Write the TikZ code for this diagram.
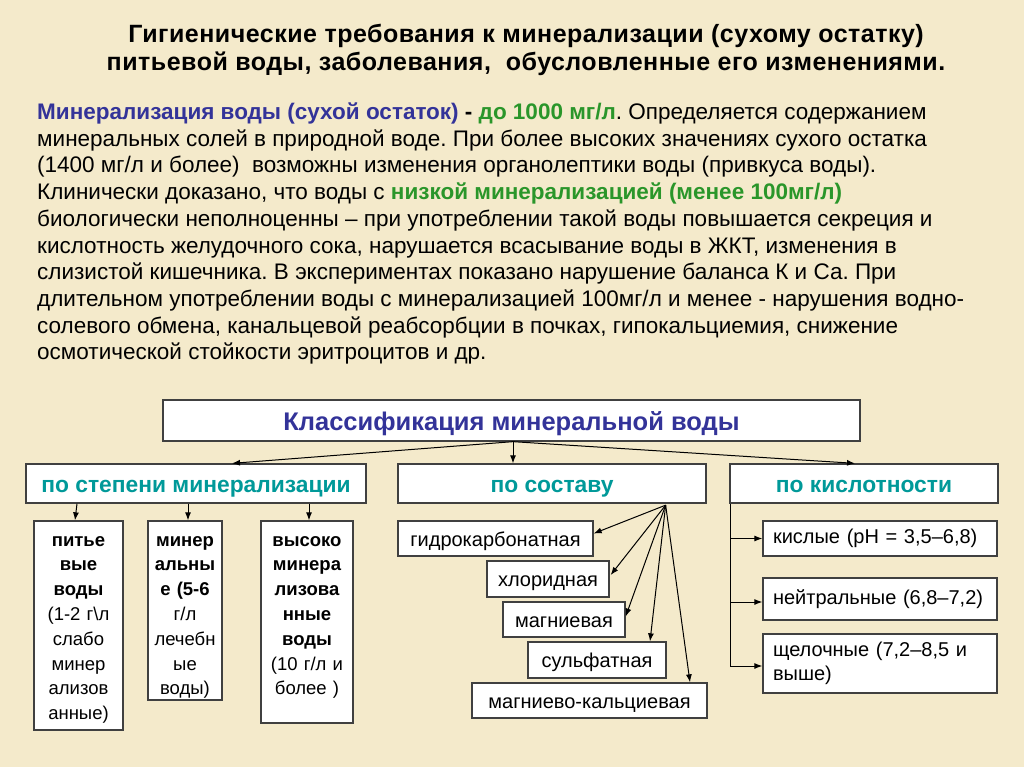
\documentclass[tikz,border=0pt]{standalone}
\usepackage{fontspec}
\setmainfont{Liberation Sans}
\usetikzlibrary{arrows.meta,calc}
\definecolor{bg}{HTML}{F4EACB}
\definecolor{dblue}{HTML}{333399}
\definecolor{dgreen}{HTML}{2A962A}
\definecolor{myteal}{HTML}{009999}
\definecolor{boxline}{HTML}{404040}
\begin{document}
\frenchspacing
\begin{tikzpicture}[x=1pt,y=-1pt,
  box/.style={draw=boxline, fill=white, line width=1.3pt, inner sep=0pt},
  arr/.style={-{Latex[length=8pt,width=6pt]}, line width=1pt, black},
  conn/.style={line width=1pt, black},
  ttl/.style={anchor=base, inner sep=0pt, font=\bfseries\fontsize{25}{28}\selectfont\addfontfeature{LetterSpace=2}},
  ptext/.style={anchor=base west, inner sep=0pt, font=\fontsize{22.5}{26}\selectfont},
  hdr/.style={box, font=\bfseries\fontsize{22.8}{26}\selectfont, text=myteal, text height=20pt, text depth=2.6pt},
  tall/.style={anchor=base, inner sep=0pt, align=center, font=\fontsize{18.5}{24.8}\selectfont},
  small/.style={box, font=\fontsize{20}{24}\selectfont, text height=18pt, text depth=3pt},
  acid/.style={box, font=\fontsize{20}{24.5}\selectfont, align=left, inner xsep=10pt, text width=214pt, minimum width=234pt}
]
\fill[bg] (0,0) rectangle (1024,767);
\useasboundingbox (0,0) rectangle (1024,767);

% title
\node[ttl] (t1) at (526,42.5) {Гигиенические требования к минерализации (сухому остатку)};
\node[ttl] (t2) at (526,70.5) {питьевой воды, заболевания,\ \ обусловленные его изменениями.};

% paragraph
\node[ptext] (p1) at (37,119.5) {{\bfseries\color{dblue}Минерализация воды (сухой остаток)} {\bfseries -} {\bfseries\color{dgreen}до 1000 мг/л}. Определяется содержанием};
\node[ptext] (p2) at (37,146.2) {минеральных солей в природной воде. При более высоких значениях сухого остатка};
\node[ptext] (p3) at (37,172.9) {(1400 мг/л и более)\ \ возможны изменения органолептики воды (привкуса воды).};
\node[ptext] (p4) at (37,199.6) {Клинически доказано, что воды с {\bfseries\color{dgreen}низкой минерализацией (менее 100мг/л)}};
\node[ptext] (p5) at (37,226.3) {биологически неполноценны – при употреблении такой воды повышается секреция и};
\node[ptext] (p6) at (37,253.0) {кислотность желудочного сока, нарушается всасывание воды в ЖКТ, изменения в};
\node[ptext] (p7) at (37,279.7) {слизистой кишечника. В экспериментах показано нарушение баланса К и Са. При};
\node[ptext] (p8) at (37,306.4) {длительном употреблении воды с минерализацией 100мг/л и менее - нарушения водно-};
\node[ptext] (p9) at (37,333.1) {солевого обмена, канальцевой реабсорбции в почках, гипокальциемия, снижение};
\node[ptext] (p10) at (37,359.8) {осмотической стойкости эритроцитов и др.};

% classification
\node[box, minimum width=697pt, minimum height=41pt, font=\bfseries\fontsize{25.5}{28}\selectfont, text=dblue, text height=22.4pt, text depth=1.6pt] (cls) at (511.5,420.5) {Классификация минеральной воды};

\node[hdr, minimum width=340pt, minimum height=39pt] (deg) at (196,483.5) {по степени минерализации};
\node[hdr, minimum width=308pt, minimum height=39pt] (sos) at (552,483.5) {по составу};
\node[hdr, minimum width=268pt, minimum height=39pt] (kis) at (864,483.5) {по кислотности};

\coordinate (src) at ($(cls.south)+(1.5,0)$);
\draw[arr] (src) -- ($(deg.north)+(36,0)$);
\draw[arr] (src) -- (src |- sos.north);
\draw[arr] (src) -- ($(kis.north)+(-9,0)$);

% tall boxes
\node[box, minimum width=89pt, minimum height=209pt] (b1) at (78.5,625.5) {};
\node[box, minimum width=74pt, minimum height=179pt] (b2) at (185,610.5) {};
\node[box, minimum width=92pt, minimum height=202pt] (b3) at (307,622) {};
\node[tall, text width=89pt] (b1t) at (78.5,546) {\bfseries питье\\вые\\воды\\\mdseries (1-2 г\textbackslash л\\слабо\\минер\\ализов\\анные)};
\node[tall, text width=74pt] (b2t) at (185,546) {\bfseries минер\\альны\\е (5-6\\\mdseries г/л\\лечебн\\ые\\воды)};
\node[tall, text width=92pt] (b3t) at (307,546) {\bfseries высоко\\минера\\лизова\\нные\\воды\\\mdseries (10 г/л и\\более )};
\draw[arr] ($(deg.south)+(-119,0)$) -- ($(b1.north)+(-3.5,0)$);
\draw[arr] ($(deg.south)+(-8,0)$) -- ($(b2.north)+(3,0)$);
\draw[arr] ($(deg.south)+(113,0)$) -- ($(b3.north)+(2,0)$);

% composition
\node[small, minimum width=195pt, minimum height=35pt] (hyd) at (495.5,538.5) {гидрокарбонатная};
\node[small, minimum width=122pt, minimum height=36pt] (chl) at (548,579) {хлоридная};
\node[small, minimum width=122pt, minimum height=35pt] (mag) at (564,619.5) {магниевая};
\node[small, minimum width=138pt, minimum height=36pt] (sul) at (597,660) {сульфатная};
\node[small, minimum width=235pt, minimum height=35pt] (mk) at (589.5,700.5) {магниево-кальциевая};
\coordinate (fan) at ($(sos.south east)+(-41,1.5)$);
\draw[arr] (fan) -- ($(hyd.east)+(0,-5)$);
\draw[arr] (fan) -- ($(chl.east)+(1,-4)$);
\draw[arr] (fan) -- ($(mag.east)+(0,-3)$);
\draw[arr] (fan) -- ($(sul.north)+(53,0)$);
\draw[arr] (fan) -- ($(mk.north)+(100.5,0)$);

% acidity
\node[acid, minimum height=35pt] (a1) at (880,538.5) {кислые (pH = 3,5–6,8)};
\node[acid, minimum height=42pt] (a2) at (880,599) {нейтральные (6,8–7,2)};
\node[acid, minimum height=59pt] (a3) at (880,663.5) {щелочные (7,2–8,5 и\\выше)};
\coordinate (sp) at ($(kis.south west)+(1,0)$);
\draw[conn] (sp) -- ($(sp |- a3.west)+(0,2.5)$);
\draw[arr] (sp |- a1.west) -- (a1.west);
\draw[arr] ($(sp |- a2.west)+(0,3)$) -- ($(a2.west)+(0,3)$);
\draw[arr] ($(sp |- a3.west)+(0,2.5)$) -- ($(a3.west)+(0,2.5)$);
\end{tikzpicture}
\end{document}
